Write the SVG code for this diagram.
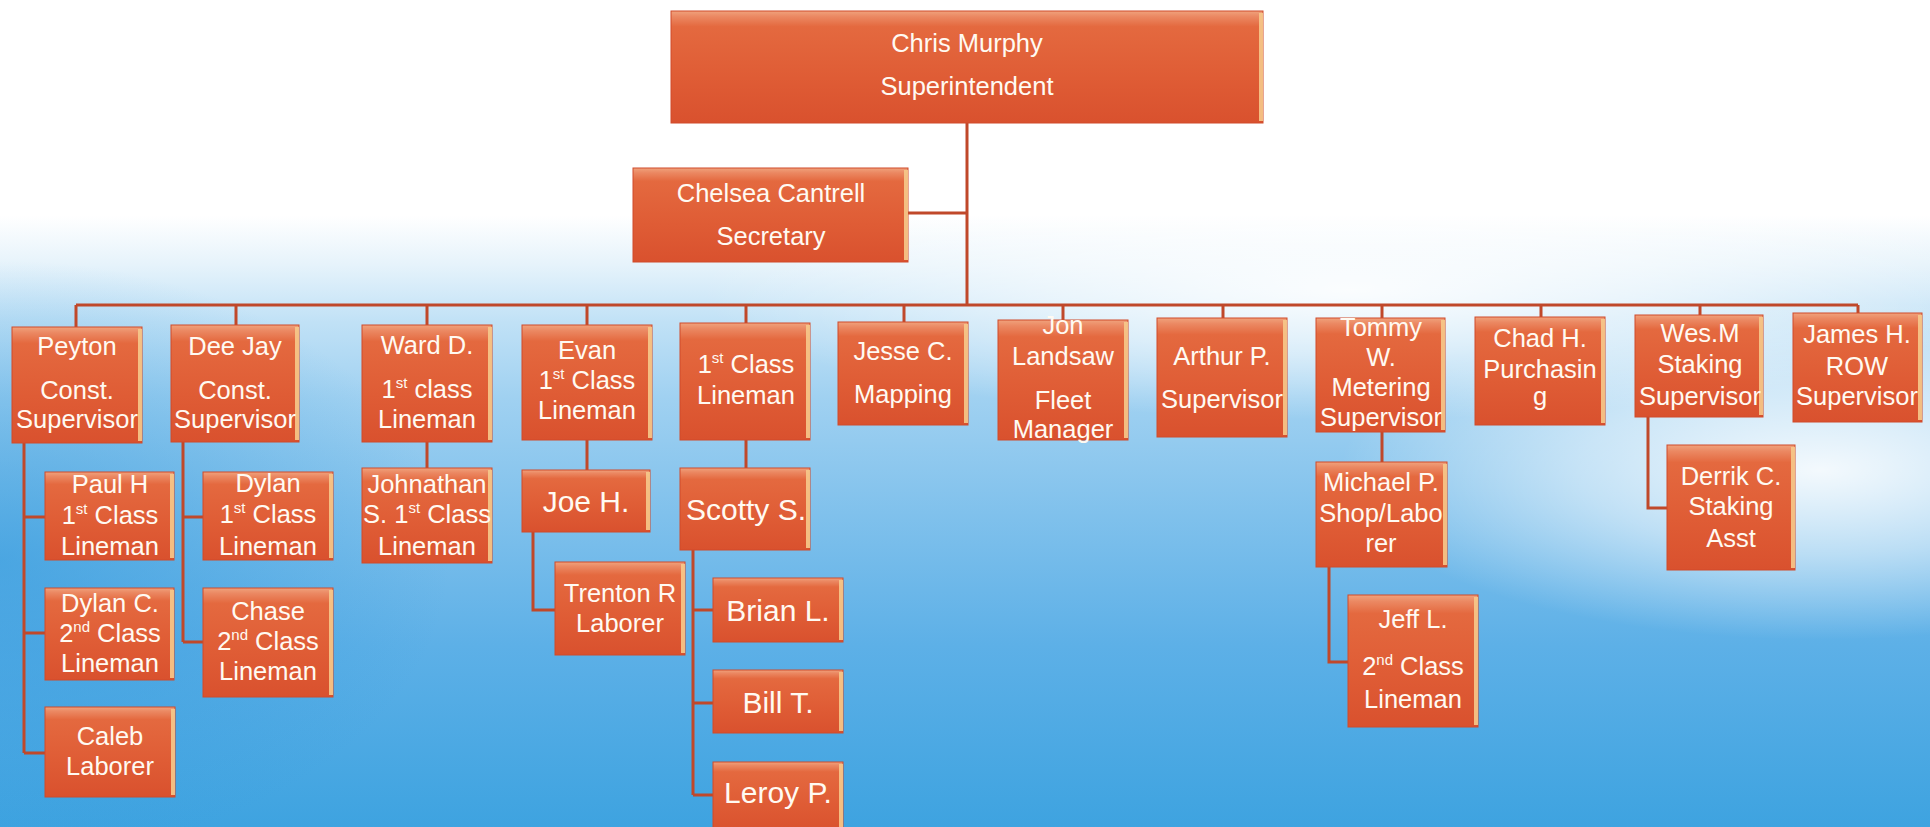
<svg xmlns="http://www.w3.org/2000/svg" width="1930" height="827" viewBox="0 0 1930 827">
<defs>
<linearGradient id="bg" x1="0" y1="0" x2="0" y2="1">
<stop offset="0" stop-color="#ffffff"/>
<stop offset="0.26" stop-color="#ffffff"/>
<stop offset="0.32" stop-color="#e6f3fb"/>
<stop offset="0.39" stop-color="#c0e1f6"/>
<stop offset="0.48" stop-color="#a0d1f1"/>
<stop offset="0.62" stop-color="#80c1ec"/>
<stop offset="0.78" stop-color="#5db0e7"/>
<stop offset="1" stop-color="#3ea3e0"/>
</linearGradient>
<radialGradient id="glowR" cx="0.5" cy="0.5" r="0.5">
<stop offset="0" stop-color="#ffffff" stop-opacity="0.9"/>
<stop offset="0.5" stop-color="#ffffff" stop-opacity="0.5"/>
<stop offset="1" stop-color="#ffffff" stop-opacity="0"/>
</radialGradient>
<radialGradient id="blueL" cx="0.5" cy="0.5" r="0.5">
<stop offset="0" stop-color="#2f98dc" stop-opacity="0.6"/>
<stop offset="1" stop-color="#2f98dc" stop-opacity="0"/>
</radialGradient>
<linearGradient id="boxg" x1="0" y1="0" x2="0" y2="1">
<stop offset="0" stop-color="#f0a27c"/>
<stop offset="0.05" stop-color="#eb8862"/>
<stop offset="0.14" stop-color="#e4693f"/>
<stop offset="0.6" stop-color="#df5c35"/>
<stop offset="1" stop-color="#d9512e"/>
</linearGradient>
<style>
.bx{fill:url(#boxg);stroke:#d04a2a;stroke-width:1}
.ed{fill:#f6c98b;opacity:0.9}
.t{fill:#fffaf2;font-family:"Liberation Sans",Arial,sans-serif;font-size:25.5px;text-anchor:middle}
.b{font-size:30px}
.c{fill:none;stroke:#c0482a;stroke-width:3}
</style>
</defs>
<rect x="0" y="0" width="1930" height="827" fill="url(#bg)"/>
<ellipse cx="0" cy="560" rx="450" ry="300" fill="url(#blueL)"/>
<ellipse cx="1820" cy="470" rx="480" ry="170" fill="url(#glowR)"/>
<ellipse cx="1350" cy="290" rx="650" ry="130" fill="url(#glowR)"/>

<g id="connectors">
<path class="c" d="M967,123V305M908,213H967M76,305H1858"/>
<path class="c" d="M76,305V327M236,305V325M427,305V325M587,305V325M746,305V323M904,305V322M1063,305V320M1223,305V318M1382,305V318M1541,305V317M1700,305V315M1858,305V313"/>
<path class="c" d="M24,443V753M24,517H45M24,633H45M24,753H45"/>
<path class="c" d="M183,442V642M183,517H203M183,642H203"/>
<path class="c" d="M427,442V468"/>
<path class="c" d="M587,440V470M533,532V610H555"/>
<path class="c" d="M746,440V468M693,550V795M693,610H713M693,703H713M693,795H713"/>
<path class="c" d="M1382,432V462M1329,567V662H1348"/>
<path class="c" d="M1648,417V508H1667"/>
</g>

<g id="n-chris"><rect class="bx" x="671" y="11" width="592" height="112"/><rect class="ed" x="1259" y="13" width="4" height="108"/>
<text class="t" x="967" y="52">Chris Murphy</text><text class="t" x="967" y="95">Superintendent</text></g>
<g id="n-chelsea"><rect class="bx" x="633" y="168" width="275" height="94"/><rect class="ed" x="904" y="170" width="4" height="90"/>
<text class="t" x="771" y="202">Chelsea Cantrell</text><text class="t" x="771" y="245">Secretary</text></g>

<g id="n-peyton"><rect class="bx" x="12" y="327" width="130" height="116"/><rect class="ed" x="138" y="329" width="4" height="112"/>
<text class="t" x="77" y="355">Peyton</text><text class="t" x="77" y="399">Const.</text><text class="t" x="77" y="428">Supervisor</text></g>
<g id="n-deejay"><rect class="bx" x="171" y="325" width="128" height="117"/><rect class="ed" x="295" y="327" width="4" height="113"/>
<text class="t" x="235" y="355">Dee Jay</text><text class="t" x="235" y="399">Const.</text><text class="t" x="235" y="428">Supervisor</text></g>
<g id="n-ward"><rect class="bx" x="362" y="325" width="130" height="117"/><rect class="ed" x="488" y="327" width="4" height="113"/>
<text class="t" x="427" y="354">Ward D.</text><text class="t" x="427" y="398">1<tspan font-size="15" dy="-10">st</tspan><tspan dy="10"> class</tspan></text><text class="t" x="427" y="428">Lineman</text></g>
<g id="n-evan"><rect class="bx" x="522" y="325" width="130" height="115"/><rect class="ed" x="648" y="327" width="4" height="111"/>
<text class="t" x="587" y="359">Evan</text><text class="t" x="587" y="389">1<tspan font-size="15" dy="-10">st</tspan><tspan dy="10"> Class</tspan></text><text class="t" x="587" y="419">Lineman</text></g>
<g id="n-lineman1"><rect class="bx" x="680" y="323" width="130" height="117"/><rect class="ed" x="806" y="325" width="4" height="113"/>
<text class="t" x="746" y="373">1<tspan font-size="15" dy="-10">st</tspan><tspan dy="10"> Class</tspan></text><text class="t" x="746" y="404">Lineman</text></g>
<g id="n-jesse"><rect class="bx" x="838" y="322" width="130" height="103"/><rect class="ed" x="964" y="324" width="4" height="99"/>
<text class="t" x="903" y="360">Jesse C.</text><text class="t" x="903" y="403">Mapping</text></g>
<g id="n-jon"><rect class="bx" x="998" y="320" width="130" height="120"/><rect class="ed" x="1124" y="322" width="4" height="116"/>
<text class="t" x="1063" y="334">Jon</text><text class="t" x="1063" y="365">Landsaw</text><text class="t" x="1063" y="409">Fleet</text><text class="t" x="1063" y="438">Manager</text></g>
<g id="n-arthur"><rect class="bx" x="1157" y="318" width="130" height="119"/><rect class="ed" x="1283" y="320" width="4" height="115"/>
<text class="t" x="1222" y="365">Arthur P.</text><text class="t" x="1222" y="408">Supervisor</text></g>
<g id="n-tommy"><rect class="bx" x="1316" y="318" width="129" height="114"/><rect class="ed" x="1441" y="320" width="4" height="110"/>
<text class="t" x="1381" y="336">Tommy</text><text class="t" x="1381" y="366">W.</text><text class="t" x="1381" y="396">Metering</text><text class="t" x="1381" y="426">Supervisor</text></g>
<g id="n-chad"><rect class="bx" x="1475" y="317" width="130" height="108"/><rect class="ed" x="1601" y="319" width="4" height="104"/>
<text class="t" x="1540" y="347">Chad H.</text><text class="t" x="1540" y="378">Purchasin</text><text class="t" x="1540" y="405">g</text></g>
<g id="n-wes"><rect class="bx" x="1635" y="315" width="128" height="102"/><rect class="ed" x="1759" y="317" width="4" height="98"/>
<text class="t" x="1700" y="342">Wes.M</text><text class="t" x="1700" y="373">Staking</text><text class="t" x="1700" y="405">Supervisor</text></g>
<g id="n-james"><rect class="bx" x="1793" y="313" width="129" height="109"/><rect class="ed" x="1918" y="315" width="4" height="105"/>
<text class="t" x="1857" y="343">James H.</text><text class="t" x="1857" y="375">ROW</text><text class="t" x="1857" y="405">Supervisor</text></g>

<g id="n-paul"><rect class="bx" x="45" y="472" width="129" height="88"/><rect class="ed" x="170" y="474" width="4" height="84"/>
<text class="t" x="110" y="493">Paul H</text><text class="t" x="110" y="524">1<tspan font-size="15" dy="-10">st</tspan><tspan dy="10"> Class</tspan></text><text class="t" x="110" y="555">Lineman</text></g>
<g id="n-dylanc"><rect class="bx" x="45" y="588" width="129" height="92"/><rect class="ed" x="170" y="590" width="4" height="88"/>
<text class="t" x="110" y="612">Dylan C.</text><text class="t" x="110" y="642">2<tspan font-size="15" dy="-10">nd</tspan><tspan dy="10"> Class</tspan></text><text class="t" x="110" y="672">Lineman</text></g>
<g id="n-caleb"><rect class="bx" x="45" y="707" width="130" height="90"/><rect class="ed" x="171" y="709" width="4" height="86"/>
<text class="t" x="110" y="745">Caleb</text><text class="t" x="110" y="775">Laborer</text></g>
<g id="n-dylan"><rect class="bx" x="203" y="472" width="130" height="88"/><rect class="ed" x="329" y="474" width="4" height="84"/>
<text class="t" x="268" y="492">Dylan</text><text class="t" x="268" y="523">1<tspan font-size="15" dy="-10">st</tspan><tspan dy="10"> Class</tspan></text><text class="t" x="268" y="555">Lineman</text></g>
<g id="n-chase"><rect class="bx" x="203" y="588" width="130" height="109"/><rect class="ed" x="329" y="590" width="4" height="105"/>
<text class="t" x="268" y="620">Chase</text><text class="t" x="268" y="650">2<tspan font-size="15" dy="-10">nd</tspan><tspan dy="10"> Class</tspan></text><text class="t" x="268" y="680">Lineman</text></g>
<g id="n-johnathan"><rect class="bx" x="362" y="468" width="130" height="95"/><rect class="ed" x="488" y="470" width="4" height="91"/>
<text class="t" x="427" y="493">Johnathan</text><text class="t" x="427" y="523">S. 1<tspan font-size="15" dy="-10">st</tspan><tspan dy="10"> Class</tspan></text><text class="t" x="427" y="555">Lineman</text></g>
<g id="n-joe"><rect class="bx" x="522" y="470" width="128" height="62"/><rect class="ed" x="646" y="472" width="4" height="58"/>
<text class="t b" x="586" y="512">Joe H.</text></g>
<g id="n-trenton"><rect class="bx" x="555" y="562" width="130" height="93"/><rect class="ed" x="681" y="564" width="4" height="89"/>
<text class="t" x="620" y="602">Trenton R</text><text class="t" x="620" y="632">Laborer</text></g>
<g id="n-scotty"><rect class="bx" x="680" y="468" width="130" height="82"/><rect class="ed" x="806" y="470" width="4" height="78"/>
<text class="t b" x="746" y="520" font-size="31">Scotty S.</text></g>
<g id="n-brian"><rect class="bx" x="713" y="578" width="130" height="64"/><rect class="ed" x="839" y="580" width="4" height="60"/>
<text class="t b" x="778" y="621">Brian L.</text></g>
<g id="n-bill"><rect class="bx" x="713" y="670" width="130" height="63"/><rect class="ed" x="839" y="672" width="4" height="59"/>
<text class="t b" x="778" y="713">Bill T.</text></g>
<g id="n-leroy"><rect class="bx" x="713" y="762" width="130" height="70"/><rect class="ed" x="839" y="764" width="4" height="66"/>
<text class="t b" x="778" y="803">Leroy P.</text></g>
<g id="n-michael"><rect class="bx" x="1316" y="462" width="131" height="105"/><rect class="ed" x="1443" y="464" width="4" height="101"/>
<text class="t" x="1381" y="491">Michael P.</text><text class="t" x="1381" y="522">Shop/Labo</text><text class="t" x="1381" y="552">rer</text></g>
<g id="n-jeff"><rect class="bx" x="1348" y="595" width="130" height="132"/><rect class="ed" x="1474" y="597" width="4" height="128"/>
<text class="t" x="1413" y="628">Jeff L.</text><text class="t" x="1413" y="675">2<tspan font-size="15" dy="-10">nd</tspan><tspan dy="10"> Class</tspan></text><text class="t" x="1413" y="708">Lineman</text></g>
<g id="n-derrik"><rect class="bx" x="1667" y="445" width="128" height="125"/><rect class="ed" x="1791" y="447" width="4" height="121"/>
<text class="t" x="1731" y="485">Derrik C.</text><text class="t" x="1731" y="515">Staking</text><text class="t" x="1731" y="547">Asst</text></g>
</svg>
